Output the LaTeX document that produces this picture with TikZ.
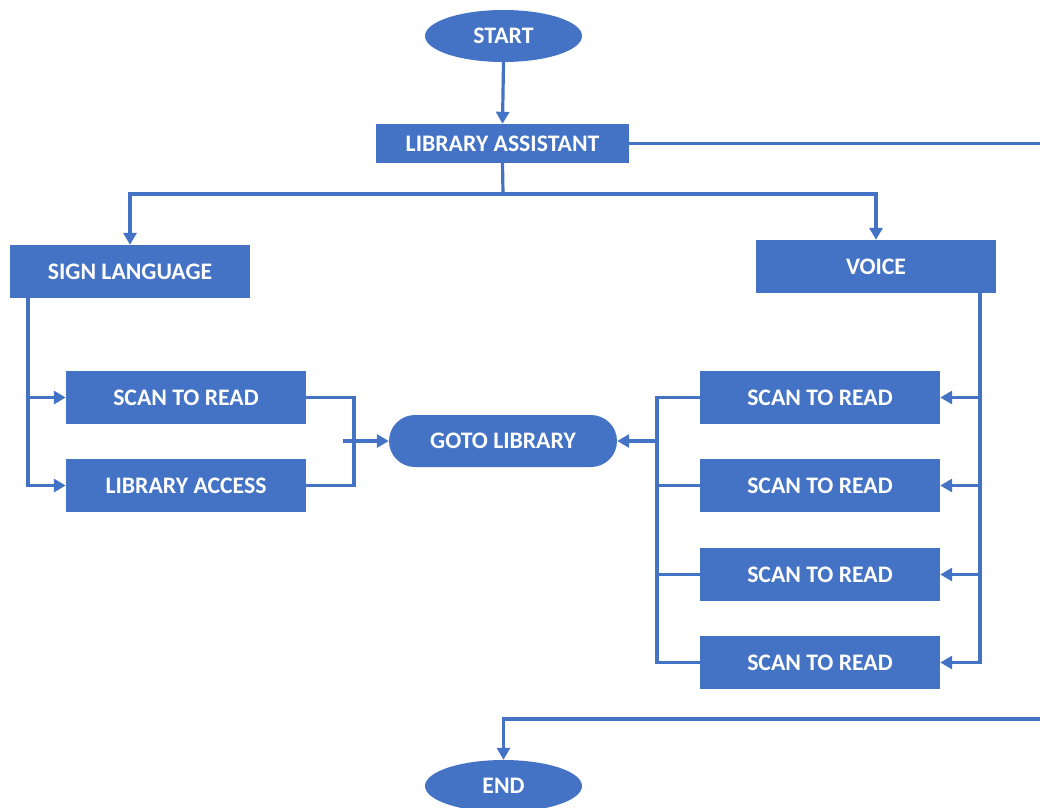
\documentclass[tikz,border=0pt]{standalone}
\usepackage{fontspec}
\setmainfont{Carlito}
\usetikzlibrary{arrows.meta,shapes.geometric}
\definecolor{fcblue}{HTML}{4472C4}
\tikzset{
  boxnode/.style={draw=none,fill=fcblue,text=white,font=\bfseries\fontsize{23.7}{28}\selectfont,inner sep=0pt,minimum width=240pt,minimum height=53pt},
  ovalnode/.style={ellipse,draw=none,fill=fcblue,text=white,font=\bfseries\fontsize{23.7}{28}\selectfont,inner sep=0pt,minimum width=157pt,minimum height=52pt},
  conn/.style={draw=fcblue,line width=3.2pt},
  arr/.style={conn,-{Triangle[length=12pt,width=13pt]}}
}
\begin{document}
\begin{tikzpicture}[x=1pt,y=-1pt]
\useasboundingbox (0,0) rectangle (1040,807);
% nodes
\node[ovalnode] (start) at (503.5,36) {START};
\node[boxnode,minimum width=253pt,minimum height=39pt] (la) at (502.5,143.5) {LIBRARY ASSISTANT};
\node[boxnode] (sign) at (130,271.5) {SIGN LANGUAGE};
\node[boxnode] (voice) at (876,266.5) {VOICE};
\node[boxnode] (s1) at (186,397.5) {SCAN TO READ};
\node[boxnode] (acc) at (186,485.5) {LIBRARY ACCESS};
\node[boxnode,minimum width=228pt,minimum height=52pt,rounded corners=26pt] (goto) at (503,441) {GOTO LIBRARY};
\node[boxnode] (r1) at (820,397.5) {SCAN TO READ};
\node[boxnode] (r2) at (820,485.5) {SCAN TO READ};
\node[boxnode] (r3) at (820,574.5) {SCAN TO READ};
\node[boxnode] (r4) at (820,662.5) {SCAN TO READ};
\node[ovalnode] (end) at (503.5,786) {END};
% coordinates
\coordinate (j) at (503,194);
\coordinate (edgeA) at (1040,143.5);
\coordinate (edgeB) at (1040,719);
\coordinate (lbus) at (28,298);
\coordinate (lmerge) at (354,441);
\coordinate (lin) at (343,441);
\coordinate (rbus) at (980,293);
\coordinate (rmerge) at (657,441);
% connectors
\draw[arr] (start.south) -- (la.north);
\draw[conn] (la.south) -- (j);
\draw[arr] (j) -| (sign.north);
\draw[arr] (j) -| (voice.north);
\draw[conn] (la.east) -- (edgeA);
\draw[arr] (edgeB) -| (end.north);
% left branch
\draw[arr] (lbus) |- (acc.west);
\draw[arr] (lbus |- s1.west) -- (s1.west);
\draw[conn] (s1.east) -| (lmerge) |- (acc.east);
\draw[arr] (lin) -- (goto.west);
% right branch
\draw[arr] (rbus) |- (r4.east);
\draw[arr] (rbus |- r1.east) -- (r1.east);
\draw[arr] (rbus |- r2.east) -- (r2.east);
\draw[arr] (rbus |- r3.east) -- (r3.east);
\draw[conn] (r1.west) -| (rmerge) |- (r4.west);
\draw[conn] (rmerge |- r2.west) -- (r2.west);
\draw[conn] (rmerge |- r3.west) -- (r3.west);
\draw[arr] (rmerge) -- (goto.east);
\end{tikzpicture}
\end{document}
